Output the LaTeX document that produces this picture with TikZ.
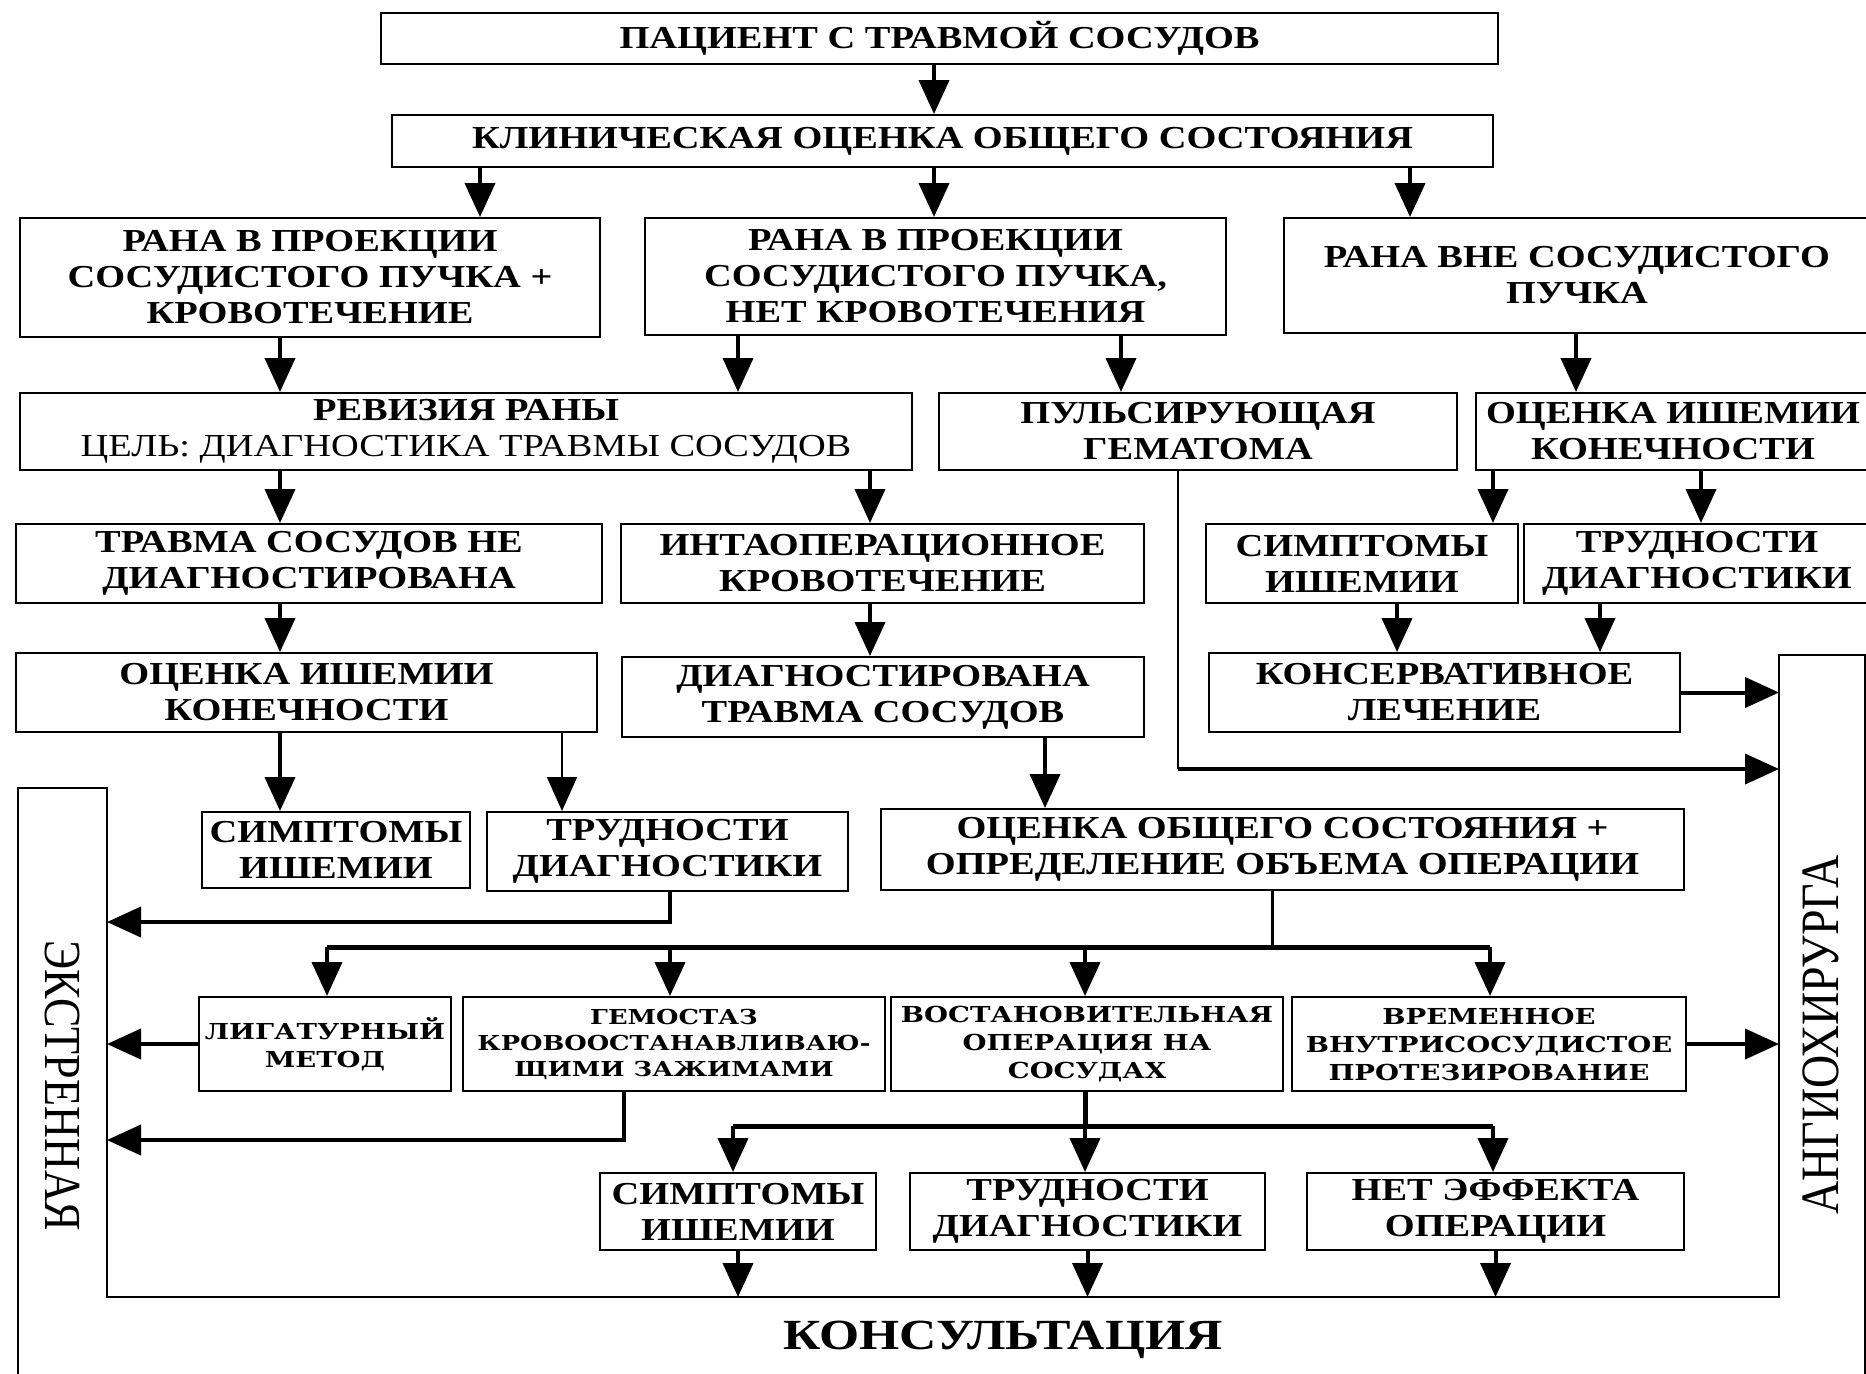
\documentclass[tikz,border=0pt]{standalone}
\usepackage{fontspec}
\setmainfont{Liberation Serif}[FakeStretch=1.2]
\newfontfamily\sidefont{Liberation Serif}[FakeStretch=0.85]
\newfontfamily\smallfont{DejaVu Serif}[FakeStretch=1.25]
\usetikzlibrary{arrows.meta}

\tikzset{
  box/.style={draw, line width=1pt, inner sep=1pt, align=center,
    font=\bfseries\fontsize{16}{18}\selectfont},
  sbox/.style={box, font=\smallfont\bfseries\fontsize{11}{14}\selectfont},
  arr/.style={-{Triangle[width=15pt,length=17pt]}, line width=2pt},
  thinarr/.style={arr, line width=0.8pt},
  bus/.style={line width=2.5pt},
  frame/.style={line width=1pt}
}

\begin{document}
\begin{tikzpicture}[x=0.5pt, y=-0.5pt]
\useasboundingbox (0,0) rectangle (1866,1373);

%рамка консультации
\draw[frame] (18,1380) -- (18,788) -- (107,788) -- (107,1297) -- (1779,1297) -- (1779,655) -- (1865,655) -- (1865,1380);
\coordinate (fl) at (107,0);
\coordinate (fr) at (1779,0);
\coordinate (fb) at (0,1297);

%блоки
\node[box, minimum width=558.5pt, minimum height=25.5pt] (A) at (939.5,38.5) {ПАЦИЕНТ С ТРАВМОЙ СОСУДОВ};
\node[box, minimum width=550.5pt, minimum height=26pt] (B) at (942.5,141) {КЛИНИЧЕСКАЯ ОЦЕНКА ОБЩЕГО СОСТОЯНИЯ};

\node[box, minimum width=290pt, minimum height=59.5pt] (C1) at (310,277.5) {РАНА В ПРОЕКЦИИ\\СОСУДИСТОГО ПУЧКА +\\КРОВОТЕЧЕНИЕ};
\node[box, minimum width=290.5pt, minimum height=58.5pt] (C2) at (935.5,276.5) {РАНА В ПРОЕКЦИИ\\СОСУДИСТОГО ПУЧКА,\\НЕТ КРОВОТЕЧЕНИЯ};
\node[box, minimum width=293pt, minimum height=57.5pt] (C3) at (1577,275.5) {РАНА ВНЕ СОСУДИСТОГО\\ПУЧКА};

\node[box, minimum width=446pt, minimum height=38.5pt] (D) at (466,431.5) {РЕВИЗИЯ РАНЫ\\\mdseries ЦЕЛЬ: ДИАГНОСТИКА ТРАВМЫ СОСУДОВ};
\node[box, minimum width=259pt, minimum height=38.5pt] (E) at (1198,431.5) {ПУЛЬСИРУЮЩАЯ\\ГЕМАТОМА};
\node[box, minimum width=197pt, minimum height=38.5pt] (F) at (1673,431.5) {ОЦЕНКА ИШЕМИИ\\КОНЕЧНОСТИ};

\node[box, minimum width=293pt, minimum height=39.5pt] (G) at (309,563.5) {ТРАВМА СОСУДОВ НЕ\\ДИАГНОСТИРОВАНА};
\node[box, minimum width=261.5pt, minimum height=39.5pt] (H) at (882.5,563.5) {ИНТАОПЕРАЦИОННОЕ\\КРОВОТЕЧЕНИЕ};
\node[box, minimum width=156pt, minimum height=39.5pt] (I) at (1362,563.5) {СИМПТОМЫ\\ИШЕМИИ};
\node[box, minimum width=173pt, minimum height=39.5pt] (J) at (1697,563.5) {ТРУДНОСТИ\\ДИАГНОСТИКИ};

\node[box, minimum width=290.5pt, minimum height=39.5pt] (K) at (306.5,692.5) {ОЦЕНКА ИШЕМИИ\\КОНЕЧНОСТИ};
\node[box, minimum width=261pt, minimum height=40pt] (L) at (883,697) {ДИАГНОСТИРОВАНА\\ТРАВМА СОСУДОВ};
\node[box, minimum width=235.5pt, minimum height=39.5pt] (M) at (1444.5,692.5) {КОНСЕРВАТИВНОЕ\\ЛЕЧЕНИЕ};

\node[box, minimum width=134pt, minimum height=38pt] (N) at (336,850) {СИМПТОМЫ\\ИШЕМИИ};
\node[box, minimum width=180.5pt, minimum height=39.5pt] (O) at (667.5,851.5) {ТРУДНОСТИ\\ДИАГНОСТИКИ};
\node[box, minimum width=401.5pt, minimum height=40.5pt] (P) at (1282.5,849.5) {ОЦЕНКА ОБЩЕГО СОСТОЯНИЯ +\\ОПРЕДЕЛЕНИЕ ОБЪЕМА ОПЕРАЦИИ};

\node[sbox, minimum width=126pt, minimum height=47pt] (Q1) at (325,1044) {ЛИГАТУРНЫЙ\\МЕТОД};
\node[sbox, minimum width=211pt, minimum height=47pt, font=\smallfont\bfseries\fontsize{10.3}{13}\selectfont] (Q2) at (674,1044) {ГЕМОСТАЗ\\КРОВООСТАНАВЛИВАЮ-\\ЩИМИ ЗАЖИМАМИ};
\node[sbox, minimum width=196pt, minimum height=47pt] (Q3) at (1087,1044) {ВОСТАНОВИТЕЛЬНАЯ\\ОПЕРАЦИЯ НА\\СОСУДАХ};
\node[sbox, minimum width=197pt, minimum height=47pt] (Q4) at (1489,1044) {ВРЕМЕННОЕ\\ВНУТРИСОСУДИСТОЕ\\ПРОТЕЗИРОВАНИЕ};

\node[box, minimum width=138pt, minimum height=38.5pt] (R1) at (738,1211.5) {СИМПТОМЫ\\ИШЕМИИ};
\node[box, minimum width=177.5pt, minimum height=38.5pt] (R2) at (1087.5,1211.5) {ТРУДНОСТИ\\ДИАГНОСТИКИ};
\node[box, minimum width=188.5pt, minimum height=38.5pt] (R3) at (1495.5,1211.5) {НЕТ ЭФФЕКТА\\ОПЕРАЦИИ};

%подписи рамки
\node[rotate=-90, font=\sidefont\fontsize{26}{26}\selectfont] (ekstr) at (62,1086) {ЭКСТРЕННАЯ};
\node[rotate=90, font=\sidefont\fontsize{27}{27}\selectfont] (angio) at (1821,1035) {АНГИОХИРУРГА};
\node[font=\bfseries\fontsize{21.5}{21.5}\selectfont] (kons) at (1003,1340) {КОНСУЛЬТАЦИЯ};

%стрелки сверху вниз
\draw[arr] (A.south -| 934,0) -- (B.north -| 934,0);
\draw[arr] (B.south -| 480,0) -- (C1.north -| 480,0);
\draw[arr] (B.south -| 934,0) -- (C2.north -| 934,0);
\draw[arr] (B.south -| 1410,0) -- (C3.north -| 1410,0);
\draw[arr] (C1.south -| 280,0) -- (D.north -| 280,0);
\draw[arr] (C2.south -| 738,0) -- (D.north -| 738,0);
\draw[arr] (C2.south -| 1121,0) -- (E.north -| 1121,0);
\draw[arr] (C3.south -| 1576,0) -- (F.north -| 1576,0);
\draw[arr] (D.south -| 280,0) -- (G.north -| 280,0);
\draw[arr] (D.south -| 870,0) -- (H.north -| 870,0);
\draw[arr] (F.south -| 1493,0) -- (I.north -| 1493,0);
\draw[arr] (F.south -| 1701,0) -- (J.north -| 1701,0);
\draw[arr] (G.south -| 280,0) -- (K.north -| 280,0);
\draw[arr] (H.south -| 870,0) -- (L.north -| 870,0);
\draw[arr] (I.south -| 1397,0) -- (M.north -| 1397,0);
\draw[arr] (J.south -| 1600,0) -- (M.north -| 1600,0);
\draw[arr] (K.south -| 280,0) -- (N.north -| 280,0);
\draw[thinarr] (K.south -| 562,0) -- (O.north -| 562,0);
\draw[arr] (L.south -| 1045,0) -- (P.north -| 1045,0);

%стрелки к рамке
\draw[arr] (M.east) -- (M.east -| fr);
\coordinate (ecorner) at (1178,769);
\draw[line width=1pt] (E.south -| ecorner) -- (ecorner);
\draw[arr] (ecorner) -- (ecorner -| fr);
\coordinate (ocorner) at (670,922);
\draw[arr] (O.south -| ocorner) |- (ocorner -| fl);

%оценка -> методы
\coordinate (pbus) at (1272,947);
\draw[line width=1.5pt] (P.south -| pbus) -- (pbus);
\draw[bus] (327,947) -- (1490,947);
\foreach \x/\q in {327/Q1, 670/Q2, 1085/Q3, 1490/Q4}
  \draw[arr] (\x,947) -- (\q.north -| \x,0);
\draw[arr] (Q1.west) -- (Q1.west -| fl);
\coordinate (qcorner) at (624,1140);
\draw[arr] (Q2.south -| qcorner) |- (qcorner -| fl);
\draw[arr] (Q4.east) -- (Q4.east -| fr);

%после операции
\draw[bus] (Q3.south -| 1085,0) -- (1085,1126);
\draw[bus] (733,1126) -- (1493,1126);
\foreach \x/\r in {733/R1, 1085/R2, 1493/R3}
  \draw[arr] (\x,1126) -- (\r.north -| \x,0);
\foreach \r in {R1, R2, R3}
  \draw[arr] (\r.south) -- (\r.south |- fb);
\end{tikzpicture}
\end{document}
